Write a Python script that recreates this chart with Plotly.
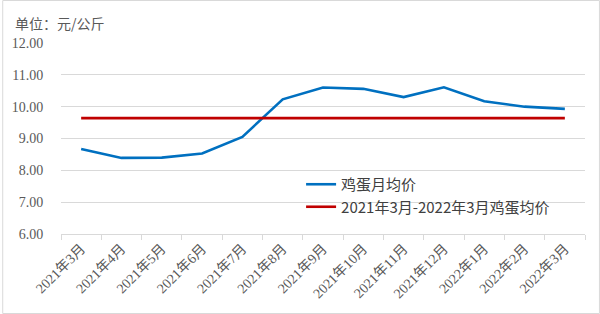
import plotly.graph_objects as go

months = ["2021年3月", "2021年4月", "2021年5月", "2021年6月", "2021年7月", "2021年8月",
          "2021年9月", "2021年10月", "2021年11月", "2021年12月", "2022年1月", "2022年2月", "2022年3月"]
egg_price = [8.67, 8.39, 8.40, 8.53, 9.05, 10.23, 10.60, 10.56, 10.30, 10.61, 10.17, 10.00, 9.93]
avg_price = 9.64
series_names = ["鸡蛋月均价", "2021年3月-2022年3月鸡蛋均价"]
y_ticks = [6, 7, 8, 9, 10, 11, 12]

W, H = 600, 314
ML, MR, MT, MB = 59, 15, 43, 80
pw, ph = W - ML - MR, H - MT - MB

fig = go.Figure()
fig.add_trace(go.Scatter(x=months, y=egg_price, mode="lines", name=series_names[0],
                         line=dict(color="#0070C0", width=2.6)))
fig.add_trace(go.Scatter(x=months, y=[avg_price] * len(months), mode="lines", name=series_names[1],
                         line=dict(color="#C00000", width=2.6)))

serif = "Liberation Serif, Noto Sans CJK SC"
fig.update_layout(
    width=W, height=H,
    margin=dict(l=ML, r=MR, t=MT, b=MB),
    paper_bgcolor="white", plot_bgcolor="white",
    showlegend=True,
    legend=dict(x=(300 - ML) / pw, y=(234 - 168) / ph, xanchor="left", yanchor="top",
                bgcolor="rgba(0,0,0,0)", font=dict(family="Noto Sans CJK SC", size=15, color="#404040"),
                tracegroupgap=0, itemwidth=30),
    annotations=[dict(text="单位：元/公斤", xref="paper", yref="paper",
                      x=(11 - ML) / pw, y=(234 - 23) / ph, xanchor="left", yanchor="middle",
                      showarrow=False, font=dict(family="Noto Sans CJK SC", size=14, color="#595959"))],
    shapes=[dict(type="rect", xref="paper", yref="paper",
                 x0=(0.5 - ML) / pw, x1=(W - 0.5 - ML) / pw,
                 y0=(234 - (H - 0.5)) / ph, y1=(234 - 0.5) / ph,
                 line=dict(color="#d9d9d9", width=1), layer="below")],
)
fig.update_xaxes(type="category", tickangle=-45, tickfont=dict(family=serif, size=14, color="#595959"),
                 showline=True, linecolor="#d9d9d9", linewidth=1, ticks="outside", tickson="boundaries",
                 ticklen=5, tickcolor="#d9d9d9", showgrid=False, range=[-0.5, len(months) - 0.5])
fig.update_yaxes(range=[6, 12], tickvals=y_ticks, tickformat=".2f",
                 tickfont=dict(family=serif, size=14, color="#595959"),
                 showgrid=True, gridcolor="#d9d9d9", gridwidth=1, zeroline=False, showline=False,
                 ticks="outside", ticklen=14, tickcolor="rgba(0,0,0,0)")

fig.write_html("out.html")
